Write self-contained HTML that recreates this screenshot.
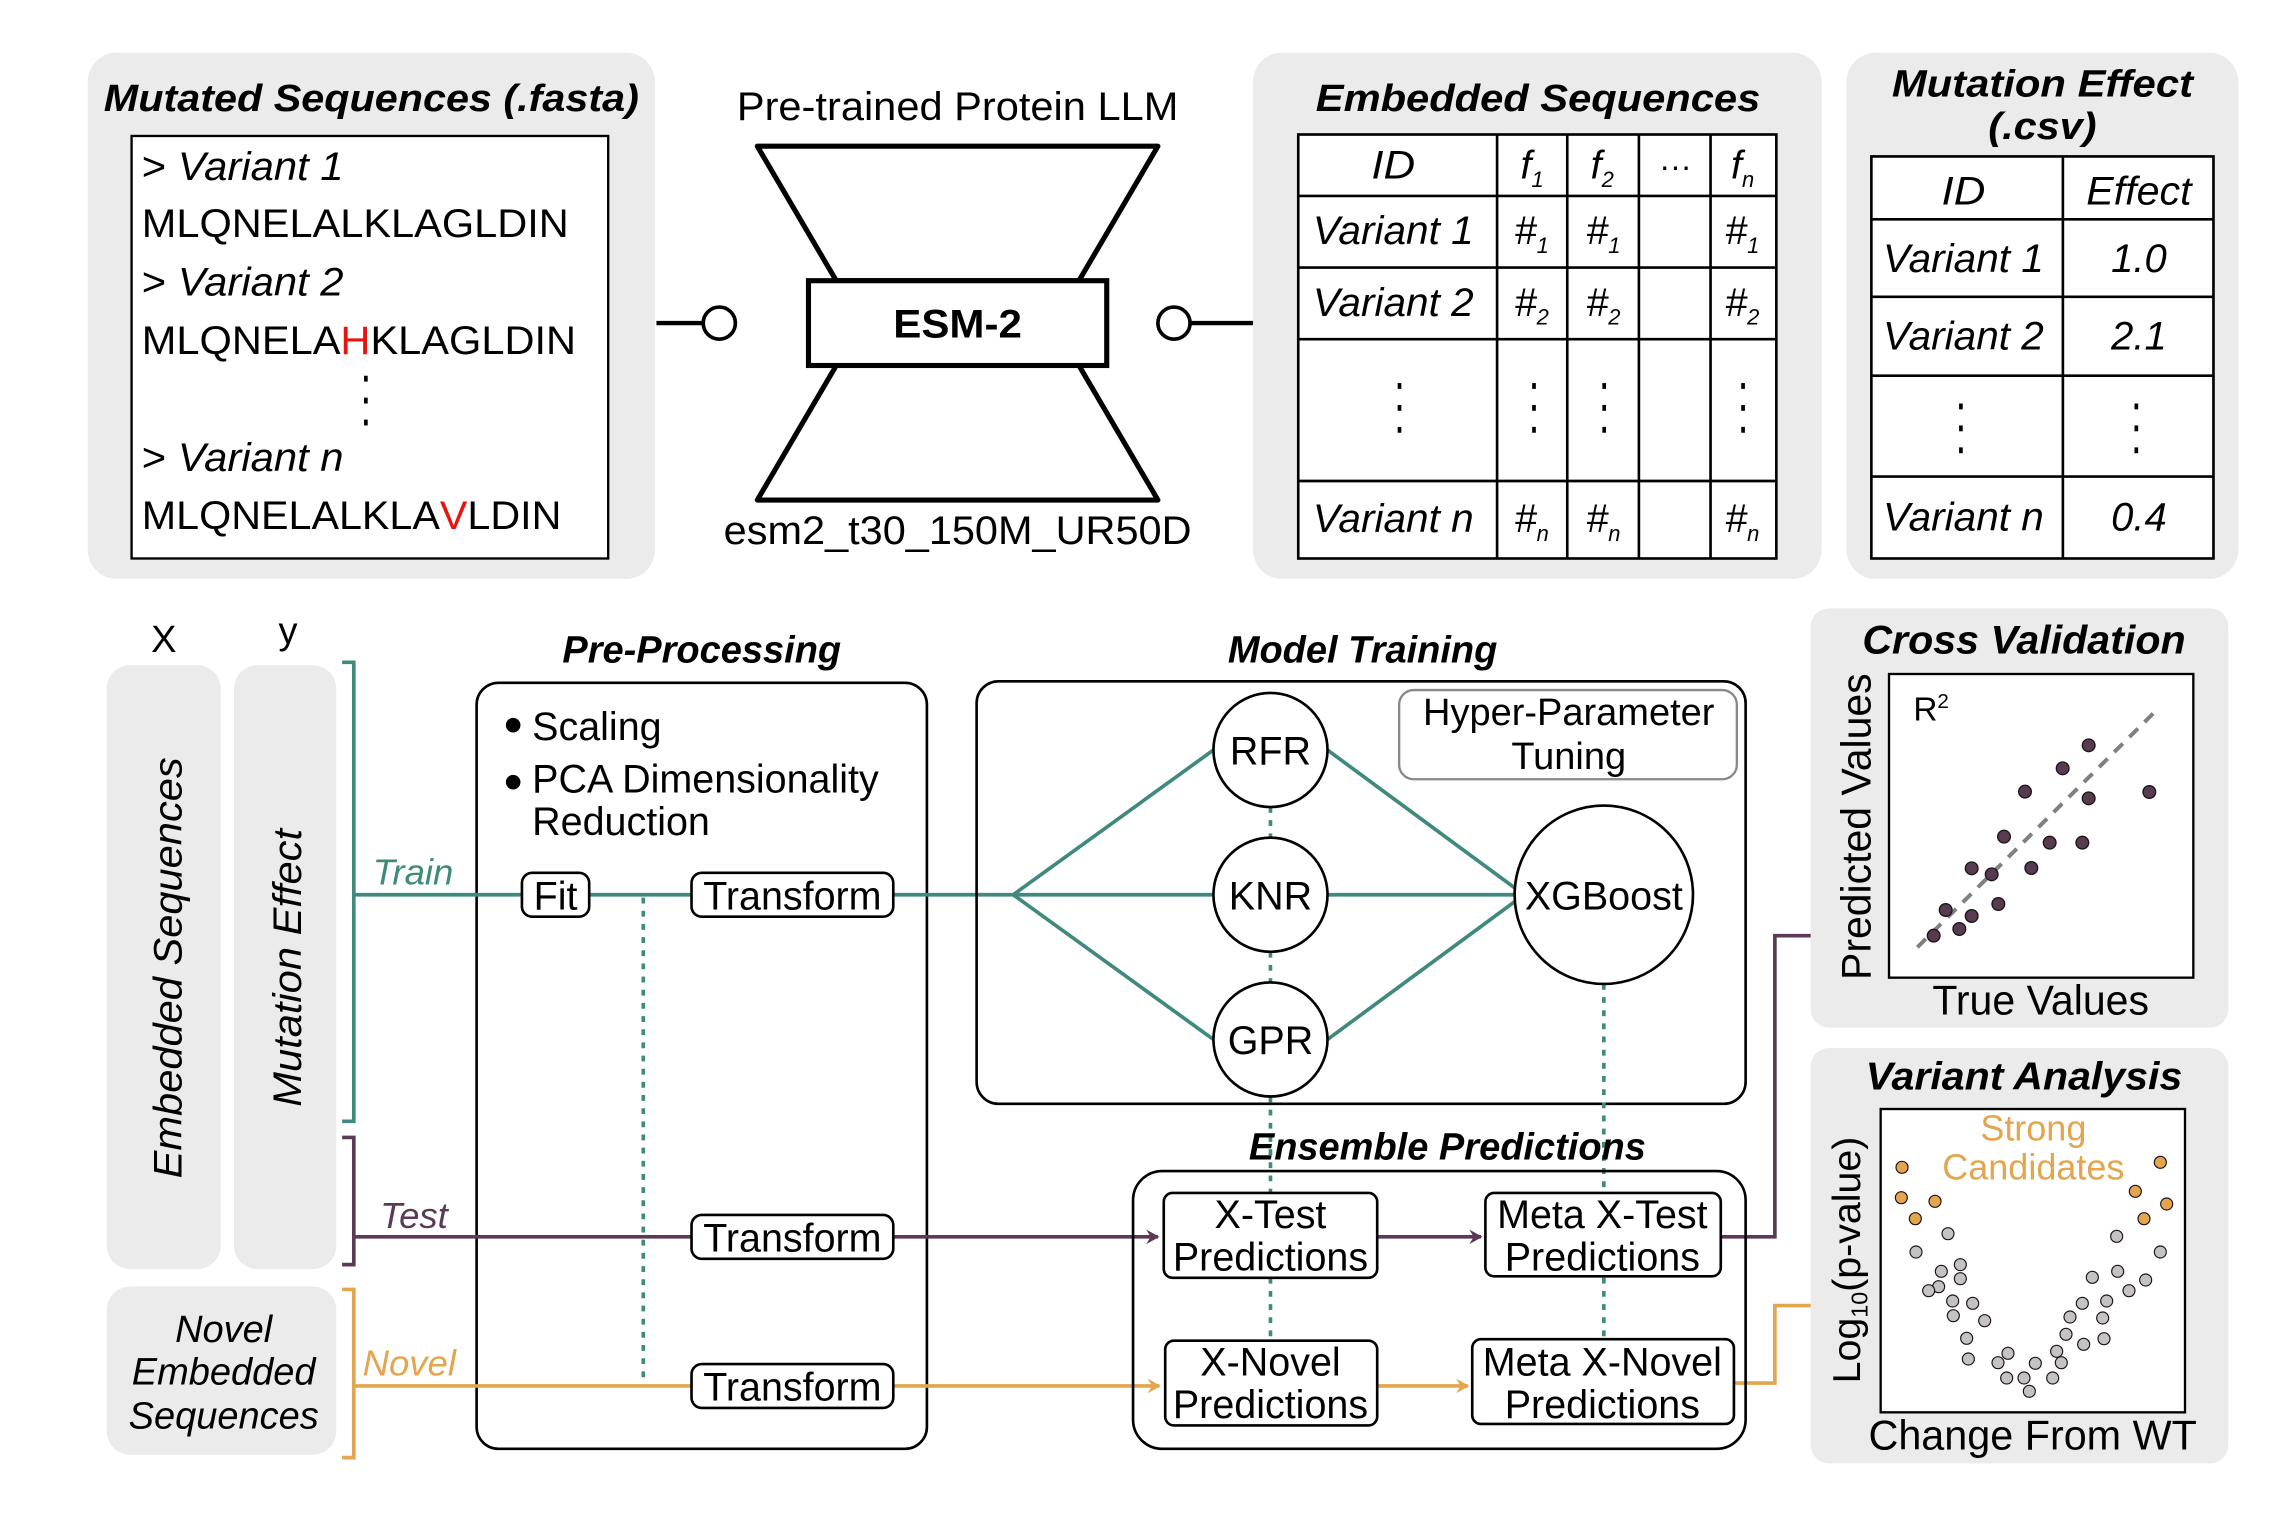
<!DOCTYPE html>
<html><head><meta charset="utf-8"><style>
html,body{margin:0;padding:0;background:#fff}
svg{display:block}
text{font-family:"Liberation Sans",Arial,sans-serif}
</style></head><body>
<svg width="2291" height="1520" viewBox="0 0 2291 1520" xmlns="http://www.w3.org/2000/svg">
<defs>
<marker id="ap" markerWidth="10" markerHeight="10" refX="8" refY="5" orient="auto" markerUnits="userSpaceOnUse"><path d="M0,0 L9,5 L0,10 L3,5 z" fill="#5b3a56"/></marker>
<marker id="ao" markerWidth="10" markerHeight="10" refX="8" refY="5" orient="auto" markerUnits="userSpaceOnUse"><path d="M0,0 L9,5 L0,10 L3,5 z" fill="#e3a54e"/></marker>
</defs>
<g transform="scale(1.462)">
<rect x="60" y="36" width="388" height="360" rx="20" fill="#ebebeb"/>
<rect x="857" y="36" width="389" height="360" rx="20" fill="#ebebeb"/>
<rect x="1263" y="36" width="268" height="360" rx="20" fill="#ebebeb"/>

<text x="254" y="76" font-size="26" font-weight="bold" font-style="italic" text-anchor="middle" textLength="366" lengthAdjust="spacingAndGlyphs">Mutated Sequences (.fasta)</text>
<rect x="90" y="93" width="326" height="289" fill="#fff" stroke="#000" stroke-width="1.6"/>
<g font-size="27">
<text x="97" y="123" textLength="138" lengthAdjust="spacingAndGlyphs">&gt; <tspan font-style="italic">Variant 1</tspan></text>
<text x="97" y="162" textLength="292" lengthAdjust="spacingAndGlyphs">MLQNELALKLAGLDIN</text>
<text x="97" y="202" textLength="138" lengthAdjust="spacingAndGlyphs">&gt; <tspan font-style="italic">Variant 2</tspan></text>
<text x="97" y="242" textLength="297" lengthAdjust="spacingAndGlyphs">MLQNELA<tspan fill="#e8140f">H</tspan>KLAGLDIN</text>
<text x="97" y="322" textLength="138" lengthAdjust="spacingAndGlyphs">&gt; <tspan font-style="italic">Variant n</tspan></text>
<text x="97" y="362" textLength="287" lengthAdjust="spacingAndGlyphs">MLQNELALKLA<tspan fill="#e8140f">V</tspan>LDIN</text>
</g>
<g fill="#000"><rect x="249" y="257" width="2.5" height="4"/><rect x="249" y="272" width="2.5" height="4"/><rect x="249" y="287" width="2.5" height="4"/></g>

<text x="655" y="82" font-size="27" text-anchor="middle" textLength="302" lengthAdjust="spacingAndGlyphs">Pre-trained Protein LLM</text>
<path d="M518,100 L792,100 L738,192 L572,192 Z" fill="#fff" stroke="#000" stroke-width="3.5" stroke-linejoin="round"/>
<path d="M572,250 L738,250 L792,342 L518,342 Z" fill="#fff" stroke="#000" stroke-width="3.5" stroke-linejoin="round"/>
<rect x="553" y="192" width="204" height="58" fill="#fff" stroke="#000" stroke-width="3.5"/>
<text x="655" y="231" font-size="27" font-weight="bold" text-anchor="middle" textLength="88" lengthAdjust="spacingAndGlyphs">ESM-2</text>
<text x="655" y="372" font-size="27" text-anchor="middle" textLength="320" lengthAdjust="spacingAndGlyphs">esm2_t30_150M_UR50D</text>
<line x1="449" y1="221" x2="481" y2="221" stroke="#000" stroke-width="3"/>
<circle cx="492" cy="221" r="11" fill="#fff" stroke="#000" stroke-width="2.5"/>
<line x1="814" y1="221" x2="857" y2="221" stroke="#000" stroke-width="3"/>
<circle cx="803" cy="221" r="11" fill="#fff" stroke="#000" stroke-width="2.5"/>

<text x="1052" y="76" font-size="26" font-weight="bold" font-style="italic" text-anchor="middle" textLength="304" lengthAdjust="spacingAndGlyphs">Embedded Sequences</text>
<rect x="888" y="92" width="327" height="290" fill="#fff" stroke="#000" stroke-width="1.8"/>
<g stroke="#000" stroke-width="1.8">
<line x1="1024" y1="92" x2="1024" y2="382"/><line x1="1072" y1="92" x2="1072" y2="382"/><line x1="1121" y1="92" x2="1121" y2="382"/><line x1="1170" y1="92" x2="1170" y2="382"/>
<line x1="888" y1="134" x2="1215" y2="134"/><line x1="888" y1="183" x2="1215" y2="183"/><line x1="888" y1="232" x2="1215" y2="232"/><line x1="888" y1="329" x2="1215" y2="329"/>
</g>
<g font-size="27" font-style="italic">
<text x="953" y="122" text-anchor="middle" textLength="30" lengthAdjust="spacingAndGlyphs">ID</text>
<text x="898" y="167" textLength="110" lengthAdjust="spacingAndGlyphs">Variant 1</text>
<text x="898" y="216" textLength="110" lengthAdjust="spacingAndGlyphs">Variant 2</text>
<text x="898" y="364" textLength="110" lengthAdjust="spacingAndGlyphs">Variant n</text>
<text x="1040" y="122">f<tspan font-size="15" dy="6">1</tspan></text>
<text x="1088" y="122">f<tspan font-size="15" dy="6">2</tspan></text>
<text x="1184" y="122">f<tspan font-size="15" dy="6">n</tspan></text>
<text x="1036" y="167">#<tspan font-size="15" dy="6">1</tspan></text>
<text x="1085" y="167">#<tspan font-size="15" dy="6">1</tspan></text>
<text x="1180" y="167">#<tspan font-size="15" dy="6">1</tspan></text>
<text x="1036" y="216">#<tspan font-size="15" dy="6">2</tspan></text>
<text x="1085" y="216">#<tspan font-size="15" dy="6">2</tspan></text>
<text x="1180" y="216">#<tspan font-size="15" dy="6">2</tspan></text>
<text x="1036" y="364">#<tspan font-size="15" dy="6">n</tspan></text>
<text x="1085" y="364">#<tspan font-size="15" dy="6">n</tspan></text>
<text x="1180" y="364">#<tspan font-size="15" dy="6">n</tspan></text>
</g>
<text x="1146" y="121" font-size="22" text-anchor="middle">···</text>
<g fill="#000">
<rect x="956" y="262" width="2.5" height="4"/><rect x="956" y="277" width="2.5" height="4"/><rect x="956" y="292" width="2.5" height="4"/>
<rect x="1048" y="262" width="2.5" height="4"/><rect x="1048" y="277" width="2.5" height="4"/><rect x="1048" y="292" width="2.5" height="4"/>
<rect x="1096" y="262" width="2.5" height="4"/><rect x="1096" y="277" width="2.5" height="4"/><rect x="1096" y="292" width="2.5" height="4"/>
<rect x="1191" y="262" width="2.5" height="4"/><rect x="1191" y="277" width="2.5" height="4"/><rect x="1191" y="292" width="2.5" height="4"/>
</g>

<text x="1397" y="66" font-size="26" font-weight="bold" font-style="italic" text-anchor="middle" textLength="206" lengthAdjust="spacingAndGlyphs">Mutation Effect</text>
<text x="1397" y="95" font-size="26" font-weight="bold" font-style="italic" text-anchor="middle" textLength="74" lengthAdjust="spacingAndGlyphs">(.csv)</text>
<rect x="1280" y="107" width="234" height="275" fill="#fff" stroke="#000" stroke-width="1.8"/>
<g stroke="#000" stroke-width="1.8">
<line x1="1411" y1="107" x2="1411" y2="382"/>
<line x1="1280" y1="150" x2="1514" y2="150"/><line x1="1280" y1="203" x2="1514" y2="203"/><line x1="1280" y1="257" x2="1514" y2="257"/><line x1="1280" y1="326" x2="1514" y2="326"/>
</g>
<g fill="#000">
<rect x="1340" y="276" width="2.5" height="4"/><rect x="1340" y="291" width="2.5" height="4"/><rect x="1340" y="306" width="2.5" height="4"/>
<rect x="1460" y="276" width="2.5" height="4"/><rect x="1460" y="291" width="2.5" height="4"/><rect x="1460" y="306" width="2.5" height="4"/>
</g>
<g font-size="27" font-style="italic">
<text x="1343" y="140" text-anchor="middle" textLength="30" lengthAdjust="spacingAndGlyphs">ID</text>
<text x="1463" y="140" text-anchor="middle" textLength="72" lengthAdjust="spacingAndGlyphs">Effect</text>
<text x="1288" y="186" textLength="110" lengthAdjust="spacingAndGlyphs">Variant 1</text>
<text x="1288" y="239" textLength="110" lengthAdjust="spacingAndGlyphs">Variant 2</text>
<text x="1288" y="363" textLength="110" lengthAdjust="spacingAndGlyphs">Variant n</text>
<text x="1463" y="186" text-anchor="middle" textLength="38" lengthAdjust="spacingAndGlyphs">1.0</text>
<text x="1463" y="239" text-anchor="middle" textLength="38" lengthAdjust="spacingAndGlyphs">2.1</text>
<text x="1463" y="363" text-anchor="middle" textLength="38" lengthAdjust="spacingAndGlyphs">0.4</text>
</g>

<text x="112" y="446" font-size="26" text-anchor="middle">X</text>
<text x="197" y="440" font-size="26" text-anchor="middle">y</text>
<rect x="73" y="455" width="78" height="413" rx="16" fill="#ebebeb"/>
<rect x="160" y="455" width="70" height="413" rx="16" fill="#ebebeb"/>
<rect x="73" y="880" width="157" height="115" rx="16" fill="#ebebeb"/>
<text transform="translate(124,662) rotate(-90)" font-size="27" font-style="italic" text-anchor="middle" textLength="288" lengthAdjust="spacingAndGlyphs">Embedded Sequences</text>
<text transform="translate(206,662) rotate(-90)" font-size="27" font-style="italic" text-anchor="middle" textLength="190" lengthAdjust="spacingAndGlyphs">Mutation Effect</text>
<g font-size="26" font-style="italic" text-anchor="middle">
<text x="153" y="918">Novel</text>
<text x="153" y="947">Embedded</text>
<text x="153" y="977">Sequences</text>
</g>

<g fill="none" stroke-width="2.5">
<path d="M234,453 H242 V767 H234" stroke="#3f8a7c"/>
<path d="M234,778 H242 V865 H234" stroke="#5b3a56"/>
<path d="M234,882 H242 V997 H234" stroke="#e3a54e"/>
</g>
<text x="255" y="605" font-size="25" font-style="italic" fill="#3f8a7c">Train</text>
<text x="260" y="840" font-size="25" font-style="italic" fill="#5b3a56">Test</text>
<text x="248" y="941" font-size="25" font-style="italic" fill="#e3a54e">Novel</text>

<text x="480" y="453" font-size="26" font-weight="bold" font-style="italic" text-anchor="middle">Pre-Processing</text>
<rect x="326" y="467" width="308" height="524" rx="15" fill="none" stroke="#000" stroke-width="1.8"/>
<circle cx="351" cy="496" r="5"/><circle cx="351" cy="535" r="5"/>
<g font-size="27"><text x="364" y="506">Scaling</text><text x="364" y="542">PCA Dimensionality</text><text x="364" y="571">Reduction</text></g>
<line x1="440" y1="614" x2="440" y2="945" stroke="#3f8a7c" stroke-width="2.5" stroke-dasharray="4,5"/>

<g fill="none" stroke-width="2.5">
<path d="M242,612 H357 M403,612 H473 M611,612 H693" stroke="#3f8a7c"/>
<path d="M242,846 H473 M611,846 H792" stroke="#5b3a56" marker-end="url(#ap)"/>
<path d="M942,846 H1013" stroke="#5b3a56" marker-end="url(#ap)"/>
<path d="M1177,846 H1214 V640 H1240" stroke="#5b3a56"/>
<path d="M242,948 H473 M611,948 H793" stroke="#e3a54e" marker-end="url(#ao)"/>
<path d="M942,948 H1004" stroke="#e3a54e" marker-end="url(#ao)"/>
<path d="M1186,946 H1214 V893 H1240" stroke="#e3a54e"/>
</g>
<g fill="#fff" stroke="#000" stroke-width="1.8">
<rect x="357" y="597" width="46" height="30" rx="7"/>
<rect x="473" y="597" width="138" height="30" rx="7"/>
<rect x="473" y="831" width="138" height="30" rx="7"/>
<rect x="473" y="933" width="138" height="30" rx="7"/>
</g>
<g font-size="27" text-anchor="middle">
<text x="380" y="622">Fit</text>
<text x="542" y="622">Transform</text>
<text x="542" y="856">Transform</text>
<text x="542" y="958">Transform</text>
</g>

<text x="932" y="453" font-size="26" font-weight="bold" font-style="italic" text-anchor="middle">Model Training</text>
<rect x="668" y="466" width="526" height="289" rx="15" fill="none" stroke="#000" stroke-width="1.8"/>
<rect x="957" y="472" width="231" height="61" rx="10" fill="#fff" stroke="#888" stroke-width="1.6"/>
<text x="1073" y="496" font-size="26" text-anchor="middle">Hyper-Parameter</text>
<text x="1073" y="526" font-size="26" text-anchor="middle">Tuning</text>
<g stroke="#3f8a7c" stroke-width="2.5" fill="none">
<path d="M693,612 L830,513 M693,612 H830 M693,612 L830,711"/>
<path d="M908,513 L1037,608 M908,612 H1036 M908,711 L1037,616"/>
</g>
<g stroke="#3f8a7c" stroke-width="2.5" stroke-dasharray="4,5">
<line x1="869" y1="552" x2="869" y2="573"/><line x1="869" y1="651" x2="869" y2="672"/>
<line x1="869" y1="750" x2="869" y2="816"/><line x1="869" y1="874" x2="869" y2="917"/>
<line x1="1097" y1="673" x2="1097" y2="816"/><line x1="1097" y1="874" x2="1097" y2="917"/>
</g>
<g fill="#fff" stroke="#000" stroke-width="1.8">
<circle cx="869" cy="513" r="39"/><circle cx="869" cy="612" r="39"/><circle cx="869" cy="711" r="39"/>
<ellipse cx="1097" cy="612" rx="61" ry="61"/>
</g>
<g font-size="27" text-anchor="middle">
<text x="869" y="523">RFR</text><text x="869" y="622">KNR</text><text x="869" y="721">GPR</text><text x="1097" y="622">XGBoost</text>
</g>

<text x="990" y="793" font-size="26" font-weight="bold" font-style="italic" text-anchor="middle">Ensemble Predictions</text>
<rect x="775" y="801" width="419" height="190" rx="20" fill="none" stroke="#000" stroke-width="1.8"/>
<g fill="#fff" stroke="#000" stroke-width="1.8">
<rect x="796" y="816" width="146" height="58" rx="6"/>
<rect x="1016" y="816" width="161" height="57" rx="6"/>
<rect x="797" y="917" width="145" height="58" rx="6"/>
<rect x="1007" y="916" width="179" height="58" rx="6"/>
</g>
<g font-size="27" text-anchor="middle">
<text x="869" y="840">X-Test</text><text x="869" y="869">Predictions</text>
<text x="1096" y="840">Meta X-Test</text><text x="1096" y="869">Predictions</text>
<text x="869" y="941">X-Novel</text><text x="869" y="970">Predictions</text>
<text x="1096" y="941">Meta X-Novel</text><text x="1096" y="970">Predictions</text>
</g>
</g>

<g transform="translate(1800,600) scale(0.33333)">
<rect x="32" y="25" width="1253" height="1258" rx="55" fill="#ebebeb"/>
<text x="672" y="160" font-size="120" font-weight="bold" font-style="italic" text-anchor="middle" textLength="970" lengthAdjust="spacingAndGlyphs">Cross Validation</text>
<rect x="267" y="222" width="913" height="911" fill="#fff" stroke="#000" stroke-width="7"/>
<text x="340" y="362" font-size="100">R<tspan font-size="62" dy="-38">2</tspan></text>
<line x1="352" y1="1042" x2="1062" y2="338" stroke="#808080" stroke-width="12" stroke-dasharray="36,28"/>
<g fill="#573b4e" stroke="#1e1218" stroke-width="4">
<circle cx="401" cy="1007" r="19"/><circle cx="437" cy="930" r="19"/><circle cx="478" cy="987" r="19"/><circle cx="515" cy="948" r="19"/><circle cx="515" cy="805" r="19"/><circle cx="575" cy="823" r="19"/><circle cx="595" cy="912" r="19"/><circle cx="612" cy="710" r="19"/><circle cx="675" cy="575" r="19"/><circle cx="694" cy="804" r="19"/><circle cx="749" cy="728" r="19"/><circle cx="788" cy="505" r="19"/><circle cx="847" cy="728" r="19"/><circle cx="866" cy="436" r="19"/><circle cx="866" cy="595" r="19"/><circle cx="1048" cy="576" r="19"/>
</g>
<text x="722" y="1243" font-size="124" text-anchor="middle" textLength="650" lengthAdjust="spacingAndGlyphs">True Values</text>
<text transform="translate(212,680) rotate(-90)" font-size="124" text-anchor="middle" textLength="920" lengthAdjust="spacingAndGlyphs">Predicted Values</text>
</g>

<g transform="translate(1800,1050) scale(0.33333)">
<rect x="32" y="-6" width="1253" height="1246" rx="55" fill="#ebebeb"/>
<text x="672" y="118" font-size="118" font-weight="bold" font-style="italic" text-anchor="middle" textLength="950" lengthAdjust="spacingAndGlyphs">Variant Analysis</text>
<rect x="242" y="177" width="913" height="910" fill="#fff" stroke="#000" stroke-width="7"/>
<text x="700" y="272" font-size="108" fill="#e3a54e" text-anchor="middle">Strong</text>
<text x="700" y="388" font-size="108" fill="#e3a54e" text-anchor="middle">Candidates</text>
<g fill="#e3a54e" stroke="#1e1218" stroke-width="3.5">
<circle cx="306" cy="352" r="18"/><circle cx="304" cy="443" r="18"/><circle cx="346" cy="506" r="18"/><circle cx="405" cy="454" r="18"/><circle cx="1081" cy="337" r="18"/><circle cx="1006" cy="424" r="18"/><circle cx="1100" cy="462" r="18"/><circle cx="1032" cy="506" r="18"/>
</g>
<g fill="#c3c3c3" stroke="#1e1218" stroke-width="3.5">
<circle cx="444" cy="551" r="18"/><circle cx="348" cy="606" r="18"/><circle cx="424" cy="664" r="18"/><circle cx="481" cy="644" r="18"/><circle cx="481" cy="686" r="18"/><circle cx="416" cy="710" r="18"/><circle cx="386" cy="722" r="18"/><circle cx="458" cy="753" r="18"/><circle cx="518" cy="760" r="18"/><circle cx="460" cy="797" r="18"/><circle cx="554" cy="812" r="18"/><circle cx="500" cy="865" r="18"/><circle cx="505" cy="927" r="18"/><circle cx="594" cy="938" r="18"/><circle cx="624" cy="910" r="18"/><circle cx="620" cy="984" r="18"/><circle cx="672" cy="984" r="18"/><circle cx="688" cy="1024" r="18"/><circle cx="706" cy="940" r="18"/><circle cx="758" cy="984" r="18"/><circle cx="784" cy="938" r="18"/><circle cx="770" cy="904" r="18"/><circle cx="798" cy="853" r="18"/><circle cx="851" cy="883" r="18"/><circle cx="810" cy="801" r="18"/><circle cx="847" cy="760" r="18"/><circle cx="877" cy="682" r="18"/><circle cx="912" cy="866" r="18"/><circle cx="908" cy="804" r="18"/><circle cx="920" cy="753" r="18"/><circle cx="953" cy="664" r="18"/><circle cx="950" cy="559" r="18"/><circle cx="987" cy="722" r="18"/><circle cx="1037" cy="690" r="18"/><circle cx="1081" cy="606" r="18"/>
</g>
<text x="698" y="1198" font-size="124" text-anchor="middle" textLength="985" lengthAdjust="spacingAndGlyphs">Change From WT</text>
<text transform="translate(180,630) rotate(-90)" font-size="118" text-anchor="middle">Log<tspan font-size="70" dy="22">10</tspan><tspan dy="-22">(p-value)</tspan></text>
</g>
</svg>
</body></html>
